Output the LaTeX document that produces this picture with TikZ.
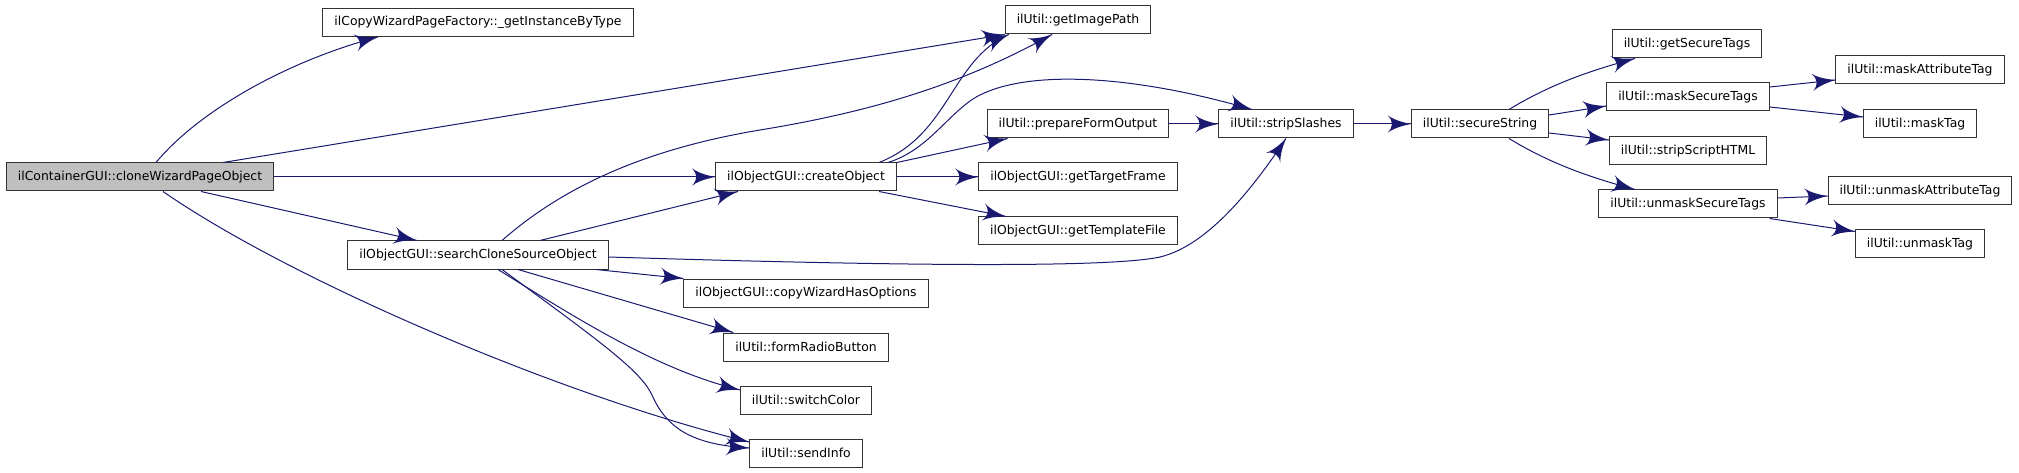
\documentclass[tikz,border=0pt]{standalone}
\usepackage{fontspec}
\setmainfont{DejaVu Sans}
\usetikzlibrary{arrows}
\usetikzlibrary{decorations.markings}
\definecolor{edgeblue}{HTML}{191970}
\definecolor{rootgray}{HTML}{BFBFBF}
\tikzset{fn/.style = {draw=black!80, line width=1pt, fill=white,
                      minimum height=28pt, inner xsep=11.5pt, inner ysep=0pt,
                      font=\fontsize{12.4}{14}\selectfont}}
\tikzset{calls/.style = {color=edgeblue, line width=1pt,
                         decoration={markings,
                                     mark=at position 1 with {\arrow[scale=4]{latex'}}},
                         postaction={decorate}}}

\begin{document}
\begin{tikzpicture}[x=1pt, y=-1pt]
    \useasboundingbox (0,0) rectangle (2019,473);
    \node [fn, fill=rootgray] (root) at (140,177) {ilContainerGUI::cloneWizardPageObject};
    \node [fn] (factory) at (478,22.5) {ilCopyWizardPageFactory::\_getInstanceByType};
    \node [fn] (search) at (478,255) {ilObjectGUI::searchCloneSourceObject};
    \node [fn] (create) at (806,177) {ilObjectGUI::createObject};
    \node [fn] (hasopt) at (806,293) {ilObjectGUI::copyWizardHasOptions};
    \node [fn] (radio) at (806,347) {ilUtil::formRadioButton};
    \node [fn] (switch) at (806,400) {ilUtil::switchColor};
    \node [fn] (info) at (806,453) {ilUtil::sendInfo};
    \node [fn] (image) at (1078,20) {ilUtil::getImagePath};
    \node [fn] (prepare) at (1078,124) {ilUtil::prepareFormOutput};
    \node [fn] (frame) at (1078,177) {ilObjectGUI::getTargetFrame};
    \node [fn] (template) at (1078,231) {ilObjectGUI::getTemplateFile};
    \node [fn] (slashes) at (1286,124) {ilUtil::stripSlashes};
    \node [fn] (secure) at (1480,124) {ilUtil::secureString};
    \node [fn] (gettags) at (1687,44) {ilUtil::getSecureTags};
    \node [fn] (masktags) at (1688,97) {ilUtil::maskSecureTags};
    \node [fn] (script) at (1688,151) {ilUtil::stripScriptHTML};
    \node [fn] (unmasktags) at (1688,204) {ilUtil::unmaskSecureTags};
    \node [fn] (maskattr) at (1920,70) {ilUtil::maskAttributeTag};
    \node [fn] (masktag) at (1920,124) {ilUtil::maskTag};
    \node [fn] (unmaskattr) at (1920,191) {ilUtil::unmaskAttributeTag};
    \node [fn] (unmasktag) at (1920,244) {ilUtil::unmaskTag};

    % calls of the root
    \draw [calls] ([xshift=16pt]root.north) .. controls +(44,-53) and +(-88,23) .. ([xshift=-100pt]factory.south);
    \draw [calls] ([xshift=83pt]root.north) -- (image.south west);
    \draw [calls] (root.east) -- (create.west);
    \draw [calls] ([xshift=61pt]root.south) -- ([xshift=-61pt]search.north);
    \draw [calls] ([xshift=23pt]root.south) .. controls +(127,88) and +(-191,-47) .. ([yshift=11pt]info.west);

    % calls of searchCloneSourceObject
    \draw [calls] ([xshift=24pt]search.north) .. controls +(58,-51) and +(-120,20) .. (760,130)
                  .. controls +(110,-18) and +(-92,51) .. ([xshift=-26pt]image.south);
    \draw [calls] ([xshift=62pt]search.north) -- ([xshift=-68pt]create.south);
    \draw [calls] ([yshift=-2pt]search.east) .. controls +(289,9) and +(-50,11) .. (1160,257)
                  .. controls +(50,-12) and +(-30,45) .. (slashes.south);
    \draw [calls] ([xshift=-13pt]search.south east) -- (hasopt.north west);
    \draw [calls] ([xshift=40pt]search.south) -- ([xshift=10pt]radio.north west);
    \draw [calls] ([xshift=20pt]search.south) .. controls +(82,51) and +(-82,-20) .. ([yshift=10pt]switch.west);
    \draw [calls] ([xshift=24pt]search.south) .. controls +(98,72) and +(-12,-25) .. (652,395)
                  .. controls +(16,37) and +(-51,-3) .. ([yshift=5pt]info.west);

    % calls of createObject
    \draw [calls] ([xshift=73pt]create.north) .. controls +(71,-28) and +(-58,26) .. ([xshift=4pt]image.south west);
    \draw [calls] ([xshift=82pt]create.north) .. controls +(42,-13) and +(-30,15) .. (980,95)
                  .. controls +(50,-25) and +(-120,-35) .. ([xshift=-34pt]slashes.north);
    \draw [calls] (create.north east) -- ([xshift=21pt]prepare.south west);
    \draw [calls] (create.east) -- (frame.west);
    \draw [calls] ([xshift=73pt]create.south) -- ([xshift=28pt]template.north west);

    % string helpers
    \draw [calls] (prepare.east) -- (slashes.west);
    \draw [calls] (slashes.east) -- (secure.west);
    \draw [calls] ([xshift=29pt]secure.north) .. controls +(41,-25) and +(-45,12) .. ([xshift=-52pt]gettags.south);
    \draw [calls] ([yshift=9pt]secure.east) -- ([yshift=-9pt]masktags.west);
    \draw [calls] ([yshift=-9pt]secure.east) -- ([yshift=11pt]script.west);
    \draw [calls] ([xshift=29pt]secure.south) .. controls +(41,25) and +(-45,-12) .. ([xshift=-53pt]unmasktags.north);
    \draw [calls] ([yshift=10pt]masktags.east) -- ([yshift=-10pt]maskattr.west);
    \draw [calls] ([yshift=-10pt]masktags.east) -- ([yshift=7pt]masktag.west);
    \draw [calls] ([yshift=6pt]unmasktags.east) -- ([yshift=-5pt]unmaskattr.west);
    \draw [calls] ([xshift=-8pt]unmasktags.south east) -- ([yshift=-2pt]unmasktag.north west);
\end{tikzpicture}
\end{document}
